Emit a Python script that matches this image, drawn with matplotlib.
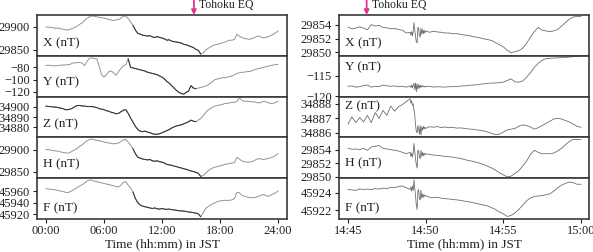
import numpy as np
import matplotlib
matplotlib.use("Agg")
import matplotlib.pyplot as plt
import matplotlib.transforms as mtransforms

plt.rcParams['font.family'] = ['Liberation Serif', 'DejaVu Serif']
plt.rcParams['axes.unicode_minus'] = True

# ---- left column: whole day, hours JST (4 samples per hour) ----
t_day = np.arange(0, 24.01, 0.25)

day_x = [29900, 29899.5, 29899, 29898,
         29897, 29897.5, 29896, 29895,
         29894, 29893, 29895, 29897,
         29899, 29902, 29906, 29909,
         29914, 29919, 29922, 29924,
         29923, 29922, 29921, 29920,
         29919, 29918, 29916, 29915,
         29914, 29915.5, 29916, 29919,
         29923, 29924, 29918, 29911,
         29903, 29893, 29886, 29884,
         29882, 29881, 29880, 29881,
         29878, 29877, 29879, 29877,
         29876, 29874, 29871, 29872,
         29869, 29868, 29867, 29866,
         29865, 29862, 29861, 29859,
         29857, 29855, 29851, 29849,
         29841, 29843, 29849, 29853,
         29856, 29859, 29861, 29862,
         29864, 29865, 29867, 29869,
         29871, 29871, 29873, 29884,
         29880, 29877, 29875, 29874,
         29873, 29874, 29876, 29879,
         29880, 29878, 29876, 29877,
         29879, 29881, 29884, 29887,
         29891]
day_y = [-77, -76.5, -77, -77.5,
         -77.5, -77, -76.5, -76,
         -76, -75.5, -75, -73,
         -72.5, -72, -72, -73,
         -77, -70, -65, -64.5,
         -65.5, -66, -78, -92,
         -96, -92, -87, -86,
         -89, -93, -87, -82,
         -77, -76, -66, -80,
         -81, -82, -83, -84,
         -85, -86, -88, -89,
         -90, -91, -92, -94,
         -96, -99, -103, -106,
         -110, -114, -118, -121,
         -123, -124, -121, -119,
         -110, -114, -115, -114,
         -113, -112, -111, -109,
         -106, -103, -100, -99,
         -98, -97, -97, -96,
         -95, -94, -92, -90,
         -89, -88, -88, -87,
         -87, -86, -84, -83,
         -82, -81, -80, -79,
         -78, -77, -76, -75.5,
         -75]
day_z = [34900.5, 34900, 34900, 34899.5,
         34899.5, 34899, 34898.5, 34898,
         34897, 34897, 34897.5, 34898.5,
         34900, 34901, 34901, 34900.5,
         34900.5, 34900, 34900, 34900,
         34899.5, 34899, 34898, 34897.5,
         34897, 34896, 34895.5, 34894.5,
         34894, 34893, 34893.5, 34895,
         34896.5, 34897, 34893.5, 34889,
         34885, 34881, 34878, 34876.5,
         34876, 34876.5, 34875.5, 34875,
         34874, 34873.5, 34873.5, 34874,
         34875, 34876, 34877, 34878,
         34879.5, 34880.5, 34881.5, 34882,
         34882.5, 34883.5, 34884.5, 34885.5,
         34887, 34886, 34885.5, 34887,
         34888.5, 34891, 34894, 34896.5,
         34898, 34899.5, 34900.5, 34901,
         34901.5, 34902, 34903, 34903,
         34903.5, 34904, 34904, 34905,
         34908.5, 34906, 34905, 34905,
         34905, 34904.5, 34904.5, 34904,
         34903.5, 34904, 34905, 34904.5,
         34903.5, 34903, 34903, 34904,
         34905]
day_h = [29900.5, 29900, 29899, 29898,
         29897, 29896.5, 29895, 29894,
         29893, 29892, 29894, 29897,
         29900, 29903, 29908, 29911,
         29916, 29920, 29923, 29924,
         29922, 29921, 29920, 29919,
         29917, 29916, 29915, 29914,
         29913, 29914, 29915, 29918,
         29922, 29923, 29917, 29910,
         29902, 29891, 29883, 29881,
         29879, 29878, 29877, 29878,
         29875, 29874, 29875, 29873,
         29872, 29870, 29867, 29866,
         29865, 29863, 29862, 29860,
         29859, 29857, 29856, 29854,
         29852, 29851, 29849, 29847,
         29840, 29842, 29847, 29852,
         29856, 29859, 29861, 29862,
         29864, 29865, 29867, 29868,
         29869, 29870, 29871, 29883,
         29879, 29875, 29873, 29872,
         29872, 29873, 29875, 29878,
         29880, 29879, 29878, 29879,
         29880, 29882, 29884, 29887,
         29891]
day_f = [45964, 45963.5, 45963, 45962.5,
         45962, 45961, 45960, 45959,
         45958, 45957, 45959, 45961,
         45964, 45966, 45969, 45971,
         45974, 45977, 45979, 45978.5,
         45977, 45976, 45975, 45974,
         45973, 45972, 45971, 45970,
         45969, 45968, 45967, 45970,
         45975, 45976, 45970, 45965,
         45958, 45947, 45940, 45936,
         45934, 45933, 45932, 45931,
         45930, 45931, 45929.5, 45929,
         45930, 45929, 45928.5, 45929,
         45928, 45927.5, 45927, 45926,
         45926, 45925.5, 45925, 45924,
         45923.5, 45923, 45922, 45921,
         45916, 45922, 45930, 45933,
         45936, 45938, 45940, 45942,
         45943, 45943.5, 45944, 45944,
         45944, 45945, 45947, 45958,
         45957, 45953, 45951, 45950,
         45949, 45948.5, 45948.5, 45949.5,
         45951, 45953, 45954, 45952,
         45951, 45953, 45955, 45957,
         45960]

# ---- right column: 14:45-15:00, minutes after 14:45 ----
t_min = np.r_[np.arange(0, 4, 0.25), np.arange(4, 5, 0.05), np.arange(5, 15.01, 0.25)]

min_x = [29853.65, 29853.4, 29853.5, 29853.7, 29853.5, 29853.25, 29854.0, 29853.8, 29853.9, 29853.6,
         29853.55, 29853.4, 29853.45, 29853.3, 29853.2, 29852.8,
         29852.9, 29852.5, 29853.0, 29852.4, 29853.1, 29854.3, 29853.2, 29852.3, 29851.5, 29851.4,
         29853.6, 29853.5, 29852.4, 29852.2, 29853.5, 29852.6, 29853.3, 29852.7, 29853.2, 29852.8,
         29853.1, 29852.9, 29853.05, 29852.95, 29852.9, 29852.8, 29852.8, 29852.7, 29852.7, 29852.6,
         29852.5, 29852.45, 29852.3, 29852.2, 29852.1, 29851.95, 29851.85, 29851.7, 29851.4, 29851.1,
         29850.8, 29850.3, 29849.95, 29850.1, 29850.25, 29850.6, 29851.3, 29852.2, 29853.0, 29853.6,
         29853.2, 29853.1, 29853.0, 29853.1, 29853.3, 29853.8, 29854.3, 29854.8, 29855.1, 29855.2,
         29855.2]
min_y = [-117.6, -117.5, -117.8, -117.7, -117.4, -117.3, -117.8, -117.6, -117.7, -117.3,
         -117.5, -117.6, -117.5, -117.7, -117.6, -117.8,
         -117.5, -117.9, -117.3, -118.0, -117.2, -116.9, -118.4, -116.8, -118.9, -117.0,
         -118.3, -117.2, -118.0, -117.3, -117.9, -117.4, -117.7, -117.5, -117.8, -117.6,
         -117.7, -117.6, -117.8, -117.7, -117.75, -117.8, -117.7, -117.7, -117.65, -117.55,
         -117.5, -117.4, -117.3, -117.25, -117.1, -117.0, -116.9, -116.8, -116.8, -116.7,
         -116.6, -116.2, -115.8, -116.5, -116.6, -116.3, -115.4, -114.3, -113.0, -112.0,
         -111.3, -110.9, -110.8, -110.75, -110.7, -110.65, -110.6, -110.5, -110.4, -110.35,
         -110.3]
min_z = [34886.6, 34887.1, 34886.7, 34887.05, 34886.75, 34887.2, 34886.7, 34887.4, 34887.0, 34887.55,
         34887.2, 34887.85, 34887.5, 34887.8, 34887.95, 34888.15,
         34888.35, 34888.05, 34888.2, 34887.9, 34888.0, 34887.6, 34887.2, 34886.5, 34886.1, 34886.0,
         34886.5, 34886.3, 34885.9, 34886.5, 34885.85, 34886.4, 34886.2, 34886.45, 34886.25, 34886.4,
         34886.3, 34886.42, 34886.38, 34886.43, 34886.36, 34886.4, 34886.35, 34886.38, 34886.32, 34886.34,
         34886.3, 34886.26, 34886.25, 34886.2, 34886.18, 34886.12, 34886.05, 34885.95, 34885.88, 34885.9,
         34886.05, 34886.2, 34886.25, 34886.3, 34886.45, 34886.55, 34886.5, 34886.4, 34886.25, 34886.35,
         34886.5, 34886.65, 34886.8, 34886.95, 34887.0, 34886.95, 34886.85, 34886.75, 34886.6, 34886.45,
         34886.38]
min_h = [29854.2, 29854.05, 29854.1, 29854.0, 29854.2, 29853.9, 29854.4, 29854.5, 29854.6, 29854.2,
         29854.1, 29854.0, 29853.9, 29853.8, 29853.6, 29853.4,
         29853.6, 29853.0, 29853.5, 29852.9, 29853.6, 29854.9, 29853.7, 29852.6, 29851.8, 29851.3,
         29853.9, 29853.8, 29852.8, 29852.7, 29853.9, 29853.0, 29853.6, 29853.1, 29853.5, 29853.2,
         29853.4, 29853.3, 29853.2, 29853.15, 29853.1, 29853.0, 29852.95, 29852.9, 29852.8, 29852.7,
         29852.55, 29852.4, 29852.3, 29852.15, 29852.0, 29851.8, 29851.55, 29851.3, 29851.0, 29850.6,
         29850.3, 29850.0, 29850.1, 29850.5, 29850.9, 29851.6, 29852.3, 29853.3, 29853.9, 29853.6,
         29853.4, 29853.4, 29853.4, 29853.5, 29853.8, 29854.2, 29854.7, 29855.2, 29855.5, 29855.5,
         29855.5]
min_f = [45924.4, 45924.35, 45924.3, 45924.45, 45924.4, 45924.45, 45924.4, 45924.5, 45924.45, 45924.55,
         45924.5, 45924.65, 45924.6, 45924.75, 45924.8, 45924.6,
         45924.4, 45924.7, 45924.2, 45924.8, 45924.3, 45925.5, 45924.5, 45923.6, 45922.6, 45922.1,
         45924.2, 45924.4, 45923.3, 45923.2, 45924.3, 45923.4, 45923.9, 45923.5, 45923.8, 45923.6,
         45923.7, 45923.5, 45923.45, 45923.5, 45923.4, 45923.35, 45923.3, 45923.25, 45923.2, 45923.15,
         45923.05, 45923.0, 45922.9, 45922.8, 45922.7, 45922.6, 45922.5, 45922.3, 45922.1, 45921.8,
         45921.6, 45921.3, 45921.4, 45921.7, 45922.1, 45922.6, 45923.1, 45923.4, 45923.6, 45923.65,
         45923.7, 45923.8, 45923.9, 45924.2, 45924.6, 45924.9, 45925.1, 45925.25, 45925.2, 45925.0,
         45925.0]

labels = ["X (nT)", "Y (nT)", "Z (nT)", "H (nT)", "F (nT)"]
day_ylims = [(29837, 29926), (-128, -61), (34870.5, 34909.5), (29836, 29927.5), (45912, 45982)]
day_yticks = [[29850, 29900], [-120, -100, -80], [34880, 34890, 34900], [29850, 29900], [45920, 45940, 45960]]
min_ylims = [(29849.5, 29855.4), (-120.1, -110.2), (34885.68, 34888.5), (29849.8, 29855.8), (45921, 45925.7)]
min_yticks = [[29850, 29852, 29854], [-120, -115], [34886, 34887, 34888], [29850, 29852, 29854], [45922, 45924]]
day_label_y = [0.30, 0.34, 0.32, 0.34, 0.27]
min_label_y = [0.30, 0.72, 0.76, 0.37, 0.27]
dark_spans = [(9, 16), (8.5, 15.5), (0, 15.5), (9, 16), (9, 16)]

eq_day = 15.3      # arrow position in left panel (hours)
eq_min = 1.2       # arrow position in right panel (minutes after 14:45)

W, H = 593, 252
fig = plt.figure(figsize=(W / 100, H / 100), dpi=100)

top_px, panel_px = 15, 40.8
spine_c = '#3a3a3a'


def make_axes(left_px):
    axs = []
    for i in range(5):
        y0 = 1 - (top_px + (i + 1) * panel_px) / H
        ax = fig.add_axes([left_px / W, y0, 250 / W, panel_px / H])
        for s in ax.spines.values():
            s.set_color(spine_c)
            s.set_linewidth(1.2)
        ax.tick_params(axis='y', direction='out', length=3, width=0.8, pad=2,
                       labelsize=9, colors='#222')
        ax.tick_params(axis='x', direction='out', length=3, width=0.8, pad=1.5,
                       labelsize=9, colors='#222')
        ax.ticklabel_format(axis='y', useOffset=False, style='plain')
        axs.append(ax)
    return axs


left_axes = make_axes(37)
right_axes = make_axes(339)

day_series = [day_x, day_y, day_z, day_h, day_f]
min_series = [min_x, min_y, min_z, min_h, min_f]

for i, ax in enumerate(left_axes):
    v = np.array(day_series[i])
    ax.plot(t_day, v, color='#949494', lw=0.7)
    a, b = dark_spans[i]
    m = (t_day >= a) & (t_day <= b)
    ax.plot(t_day[m], v[m], color='#333333', lw=0.75)
    ax.set_xlim(-0.93, 24.93)
    ax.set_ylim(*day_ylims[i])
    ax.set_yticks(day_yticks[i])
    ax.text(0.025, day_label_y[i], labels[i], transform=ax.transAxes,
            fontsize=9.5, va='center', ha='left', color='#222')
    if i < 4:
        ax.set_xticks([])
    else:
        ax.set_xticks([0, 6, 12, 18, 24])
        ax.set_xticklabels(["00:00", "06:00", "12:00", "18:00", "24:00"])
        ax.set_xlabel("Time (hh:mm) in JST", fontsize=9.5, labelpad=1, color='#222')

for i, ax in enumerate(right_axes):
    ax.plot(t_min, min_series[i], color='#6e6e6e', lw=0.6)
    ax.set_xlim(-0.58, 15.52)
    ax.set_ylim(*min_ylims[i])
    ax.set_yticks(min_yticks[i])
    ax.text(0.025, min_label_y[i], labels[i], transform=ax.transAxes,
            fontsize=9.5, va='center', ha='left', color='#222')
    if i < 4:
        ax.set_xticks([])
    else:
        ax.set_xticks([0, 5, 10, 15])
        ax.set_xticklabels(["14:45", "14:50", "14:55", "15:00"])
        ax.set_xlabel("Time (hh:mm) in JST", fontsize=9.5, labelpad=1, color='#222')

# earthquake markers
for ax, xe in [(left_axes[0], eq_day), (right_axes[0], eq_min)]:
    trans = mtransforms.blended_transform_factory(ax.transData, ax.transAxes)
    ax.annotate('', xy=(xe, 1.0), xytext=(xe, 1.37), xycoords=trans, textcoords=trans,
                arrowprops=dict(arrowstyle='-|>', color='#e0358f', lw=1.3,
                                mutation_scale=7, shrinkA=0, shrinkB=0),
                annotation_clip=False)
    ax.annotate('Tohoku EQ', xy=(xe, 1.25), xycoords=trans, xytext=(4, 0),
                textcoords='offset points', va='center', ha='left', fontsize=8.5,
                color='#222', annotation_clip=False)

fig.savefig("out.png", dpi=100)
